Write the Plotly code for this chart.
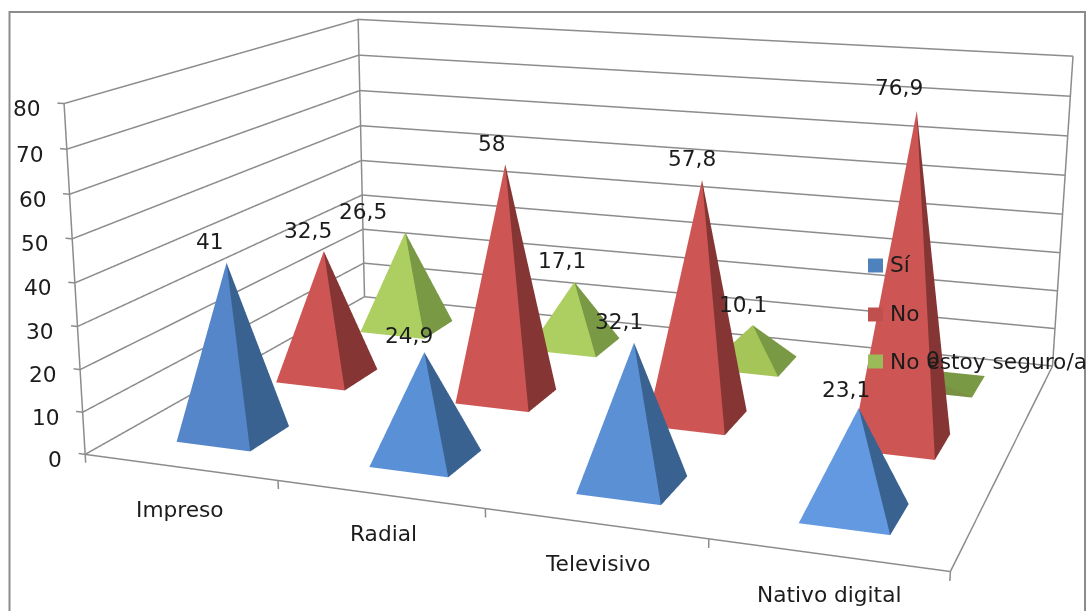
import plotly.graph_objects as go

categories = ["Impreso", "Radial", "Televisivo", "Nativo digital"]
series_names = ["Sí", "No", "No estoy seguro/a"]
si_values = [41, 24.9, 32.1, 23.1]
no_values = [32.5, 58, 57.8, 76.9]
unsure_values = [26.5, 17.1, 10.1, 0]
z_ticks = [0, 10, 20, 30, 40, 50, 60, 70, 80]

# Scene ranges leave a little room for the tick stubs outside the walls.
X_RANGE = [-0.035, 4.02]
Y_RANGE = [0, 3.02]
Z_RANGE = [-2, 80.5]

# Plotly's perspective has a fixed 45 degree field of view, so a long-lens look
# needs a scene taller than the window; the page is then shifted up to centre it.
WIDTH = 1086
VIEW_HEIGHT = 611
SCENE_HEIGHT = 1750
OFFSET = (SCENE_HEIGHT - VIEW_HEIGHT) / 2

GRID = "#8c8c8c"
TEXT = "#1c1c1c"
FONT = dict(family="DejaVu Sans", size=21.7, color=TEXT)

all_values = [si_values, no_values, unsure_values]
front_colors = [
    ["#5586c9", "#5a90d6", "#5c90d5", "#6399e0"],
    ["#cd5553"] * 4,
    ["#adcf62", "#adcf62", "#a5c558", "#7a9044"],
]
side_colors = ["#3a6290", "#853634", "#7a9944"]
legend_colors = ["#4f81bd", "#c0504d", "#9bbb59"]
HALF_BASE = 0.195

fig = go.Figure()

# One four-sided pyramid per category and series.
for si, vals in enumerate(all_values):
    for ci, v in enumerate(vals):
        xc, yc = ci + 0.5, si + 0.5
        fc, dk = front_colors[si][ci], side_colors[si]
        fig.add_trace(go.Mesh3d(
            x=[xc - HALF_BASE, xc + HALF_BASE, xc + HALF_BASE, xc - HALF_BASE, xc],
            y=[yc - HALF_BASE, yc - HALF_BASE, yc + HALF_BASE, yc + HALF_BASE, yc],
            z=[0, 0, 0, 0, v],
            i=[0, 1, 2, 3], j=[1, 2, 3, 0], k=[4, 4, 4, 4],
            facecolor=[fc, dk, dk, fc], flatshading=True,
            lighting=dict(ambient=1, diffuse=0, specular=0, fresnel=0, roughness=1),
            hoverinfo="skip",
        ))


def seg(xl, yl, zl):
    fig.add_trace(go.Scatter3d(x=xl, y=yl, z=zl, mode="lines",
                               line=dict(color=GRID, width=3),
                               hoverinfo="skip", showlegend=False))


xmax, ymax, zmax = len(categories), len(series_names), z_ticks[-1]

# Floor outline and wall edges.
seg([0, xmax], [0, 0], [0, 0])
seg([0, 0], [0, 0], [0, zmax])
seg([0, 0], [0, ymax], [0, 0])
seg([xmax, xmax], [ymax, ymax], [0, zmax])
seg([xmax, xmax], [0, ymax], [0, 0])
seg([0, 0], [ymax, ymax], [0, zmax])

# Value gridlines wrap around both walls, with a stub on the left as the tick.
for t in z_ticks:
    seg([X_RANGE[0], 0, 0, xmax], [0, 0, ymax, ymax], [t, t, t, t])

# Category separators below the front edge.
for c in range(xmax + 1):
    seg([c, c], [0, 0], [Z_RANGE[0], 0])

scene_notes = [
    dict(x=0, y=0, z=t, text=str(t), showarrow=False, xanchor="right",
         xshift=-21, yshift=-5, font=FONT)
    for t in z_ticks
]

category_shifts = [(0, -42), (4, -39), (3, -40), (2, -40)]
for i, c in enumerate(categories):
    scene_notes.append(dict(x=i + 0.5, y=0, z=0, text=c, showarrow=False,
                            xshift=category_shifts[i][0],
                            yshift=category_shifts[i][1], font=FONT))

value_shifts = [
    [(-17, 21), (-15, 17), (-15, 21), (-13, 19)],
    [(-16, 21), (-13, 21), (-10, 21), (-18, 23)],
    [(-42, 21), (-12, 21), (-10, 21), (-7, 23)],
]
for si, vals in enumerate(all_values):
    for ci, v in enumerate(vals):
        scene_notes.append(dict(x=ci + 0.5, y=si + 0.5, z=v,
                                text=str(v).replace(".", ","), showarrow=False,
                                xshift=value_shifts[si][ci][0],
                                yshift=value_shifts[si][ci][1], font=FONT))

axis_off = dict(visible=False, showspikes=False)
fig.update_layout(
    width=WIDTH, height=SCENE_HEIGHT,
    margin=dict(l=0, r=0, t=0, b=0),
    showlegend=False, paper_bgcolor="white",
    scene=dict(
        domain=dict(x=[0, 1], y=[0, 1]),
        aspectmode="manual",
        aspectratio=dict(x=1, y=0.7481, z=0.4172),
        camera=dict(
            eye=dict(x=0.8029, y=-2.3251, z=0.5993),
            center=dict(x=-0.0738, y=0, z=-0.0769),
            up=dict(x=0.0024, y=0, z=1),
            projection=dict(type="perspective"),
        ),
        xaxis=dict(range=X_RANGE, **axis_off),
        yaxis=dict(range=Y_RANGE, **axis_off),
        zaxis=dict(range=Z_RANGE, **axis_off),
        annotations=scene_notes,
    ),
)


def page_y(v):
    return 1 - (v + OFFSET) / SCENE_HEIGHT


def page_x(v):
    return v / WIDTH


# Chart border and a hand-placed legend that sits over the plot.
shapes = [dict(type="rect", xref="paper", yref="paper",
               x0=page_x(9.5), x1=page_x(1085), y0=page_y(640), y1=page_y(12.5),
               line=dict(color=GRID, width=2))]
for col, ytop in zip(legend_colors, [259, 308, 355]):
    shapes.append(dict(type="rect", xref="paper", yref="paper",
                       x0=page_x(868), x1=page_x(883),
                       y0=page_y(ytop + 14), y1=page_y(ytop),
                       fillcolor=col, line=dict(width=0)))
legend_text = [
    dict(xref="paper", yref="paper", x=page_x(888), y=page_y(ymid), text=name,
         showarrow=False, xanchor="left", font=FONT)
    for name, ymid in zip(series_names, [265, 314, 362])
]
fig.update_layout(shapes=shapes, annotations=legend_text)

shift_page = (
    "document.getElementById('{plot_id}').style.marginTop='-%dpx';"
    "document.documentElement.style.overflow='hidden';"
    "document.body.style.overflow='hidden';" % round(OFFSET)
)
fig.write_html("out.html", post_script=shift_page)
